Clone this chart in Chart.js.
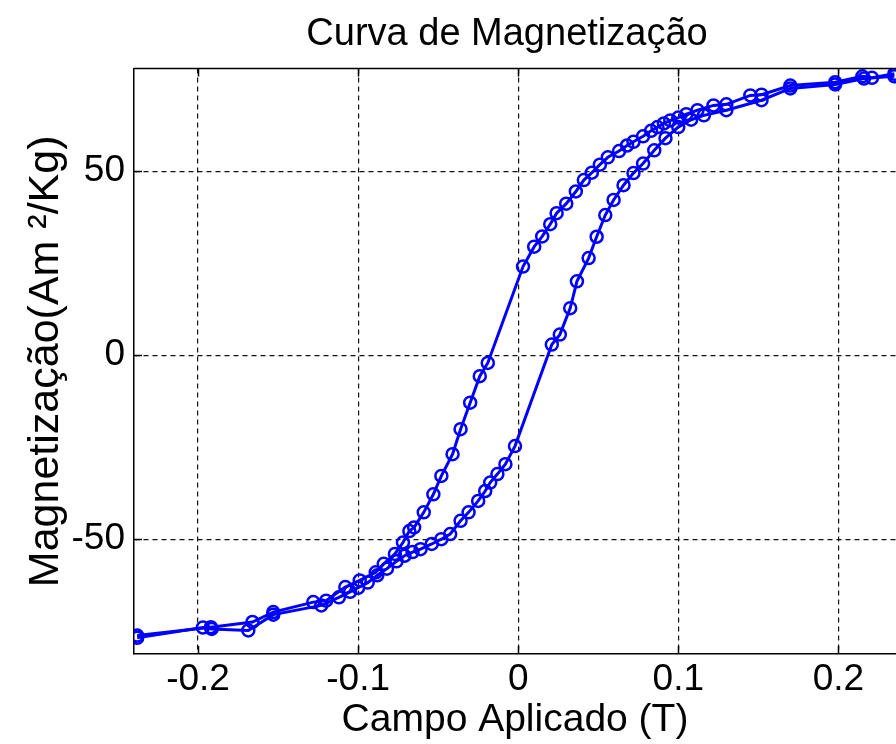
<!DOCTYPE html>
<html>
<head>
<meta charset="utf-8">
<script src="https://cdn.jsdelivr.net/npm/chart.js@4/dist/chart.umd.min.js"></script>
<style>
  html, body { margin: 0; padding: 0; background: #fff; }
  canvas { display: block; }
</style>
</head>
<body>
<canvas id="grafico" width="896" height="744"></canvas>
<script>
// Ramo descendente (campo a diminuir)
const campoDesc = [0.235, 0.221, 0.215, 0.198, 0.170, 0.152, 0.145, 0.130, 0.122, 0.112, 0.105, 0.100, 0.095, 0.091, 0.087, 0.083, 0.078, 0.072, 0.068, 0.063, 0.056, 0.051, 0.046, 0.041, 0.036, 0.030, 0.024, 0.020, 0.015, 0.010, 0.003, -0.019, -0.024, -0.030, -0.036, -0.041, -0.048, -0.053, -0.059, -0.065, -0.068, -0.072, -0.077, -0.084, -0.089, -0.099, -0.108, -0.120, -0.128, -0.153, -0.166, -0.192, -0.238];
const magDesc = [76.5, 75.4, 75.8, 74.2, 73.3, 70.8, 70.6, 68.2, 67.9, 66.6, 65.5, 64.6, 63.8, 63.0, 62.0, 61.0, 59.5, 58.0, 57.0, 55.5, 53.8, 51.8, 49.6, 47.6, 44.5, 41.2, 38.6, 35.6, 32.3, 29.5, 24.1, -2.1, -5.7, -12.9, -20.1, -26.9, -32.8, -37.8, -42.7, -46.8, -47.8, -50.9, -54.0, -56.7, -59.0, -61.2, -63.0, -66.7, -67.1, -69.8, -72.5, -73.9, -76.2];

// Ramo ascendente (campo a aumentar)
const campoAsc = [-0.238, -0.197, -0.1915, -0.1686, -0.153, -0.123, -0.112, -0.105, -0.100, -0.094, -0.088, -0.082, -0.076, -0.071, -0.066, -0.061, -0.054, -0.048, -0.0425, -0.036, -0.031, -0.025, -0.0206, -0.0175, -0.013, -0.008, -0.002, 0.021, 0.026, 0.0325, 0.0367, 0.044, 0.049, 0.0544, 0.0596, 0.0658, 0.072, 0.078, 0.085, 0.092, 0.100, 0.108, 0.116, 0.130, 0.152, 0.170, 0.198, 0.216, 0.235];
const magAsc = [-76.8, -74.0, -74.4, -74.8, -70.5, -68.0, -65.8, -64.3, -63.2, -61.8, -59.8, -58.0, -56.0, -54.5, -53.5, -52.7, -51.3, -50.0, -48.6, -45.0, -42.7, -39.6, -36.9, -34.6, -32.3, -29.6, -24.7, 2.9, 5.6, 12.8, 20.1, 26.4, 32.2, 38.1, 42.2, 46.2, 49.5, 52.1, 55.7, 59.0, 62.0, 64.0, 65.2, 66.6, 69.3, 72.5, 73.6, 75.2, 75.8];

// Marcas dos eixos
const xTicks = [-0.2, -0.1, 0, 0.1, 0.2];
const yTicks = [-50, 0, 50];

const fonte = "'Liberation Sans', Arial, Helvetica, sans-serif";
const azul = '#0000ff';

function pontos(xs, ys) {
  return xs.map((x, i) => ({ x: x, y: ys[i] }));
}

function serie(dados) {
  return {
    data: dados,
    showLine: true,
    borderColor: azul,
    borderWidth: 3,
    pointRadius: 6,
    pointBorderWidth: 2.5,
    pointBorderColor: azul,
    pointBackgroundColor: 'rgba(0,0,0,0)',
    tension: 0
  };
}

// Moldura superior e marcas internas (estilo MATLAB)
const moldura = {
  id: 'moldura',
  afterLayout(chart) {
    // o título fica centrado sobre os eixos, não sobre a figura
    chart.titleBlock.left = 118;
  },
  afterDraw(chart) {
    const { ctx, chartArea: a, scales } = chart;
    ctx.save();
    ctx.strokeStyle = '#000';
    ctx.lineWidth = 1.5;
    ctx.beginPath();
    ctx.moveTo(a.left, a.top);
    ctx.lineTo(a.right, a.top);
    xTicks.forEach(v => {
      const px = Math.round(scales.x.getPixelForValue(v)) + 0.5;
      ctx.moveTo(px, a.bottom); ctx.lineTo(px, a.bottom - 8);
      ctx.moveTo(px, a.top); ctx.lineTo(px, a.top + 8);
    });
    yTicks.forEach(v => {
      const py = Math.round(scales.y.getPixelForValue(v)) + 0.5;
      ctx.moveTo(a.left, py); ctx.lineTo(a.left + 8, py);
    });
    ctx.stroke();
    ctx.restore();
  }
};

new Chart(document.getElementById('grafico'), {
  type: 'scatter',
  data: {
    datasets: [serie(pontos(campoDesc, magDesc)), serie(pontos(campoAsc, magAsc))]
  },
  options: {
    responsive: false,
    animation: false,
    devicePixelRatio: 1,
    layout: { padding: 0, autoPadding: false },
    plugins: {
      legend: { display: false },
      tooltip: { enabled: false },
      title: {
        display: true,
        text: 'Curva de Magnetização',
        color: '#000',
        font: { family: fonte, size: 38, weight: 'normal' },
        padding: { top: 12, bottom: 11 }
      }
    },
    scales: {
      x: {
        type: 'linear',
        min: -0.24,
        max: 0.236,
        afterBuildTicks: s => { s.ticks = xTicks.map(v => ({ value: v })); },
        afterFit: s => { s.height = 90; },
        ticks: {
          color: '#000',
          padding: 4,
          font: { family: fonte, size: 37 },
          callback: v => String(v)
        },
        grid: { color: '#111', lineWidth: 1.2, drawTicks: false },
        border: { display: true, color: '#000', width: 1.5, dash: [5, 4] },
        title: {
          display: true,
          text: 'Campo Aplicado (T)',
          color: '#000',
          font: { family: fonte, size: 39 },
          padding: { top: 0, bottom: 0 }
        }
      },
      y: {
        type: 'linear',
        min: -81.2,
        max: 77.9,
        afterBuildTicks: s => { s.ticks = yTicks.map(v => ({ value: v })); },
        afterFit: s => { s.width = 134; },
        ticks: {
          color: '#000',
          padding: 9,
          font: { family: fonte, size: 37 },
          callback: v => String(v)
        },
        grid: { color: '#111', lineWidth: 1.2, drawTicks: false },
        border: { display: true, color: '#000', width: 1.5, dash: [5, 4] },
        title: {
          display: true,
          text: 'Magnetização(Am ²/Kg)',
          color: '#000',
          font: { family: fonte, size: 43 },
          padding: { top: 20, bottom: 0 }
        }
      }
    }
  },
  plugins: [moldura]
});
</script>
</body>
</html>
